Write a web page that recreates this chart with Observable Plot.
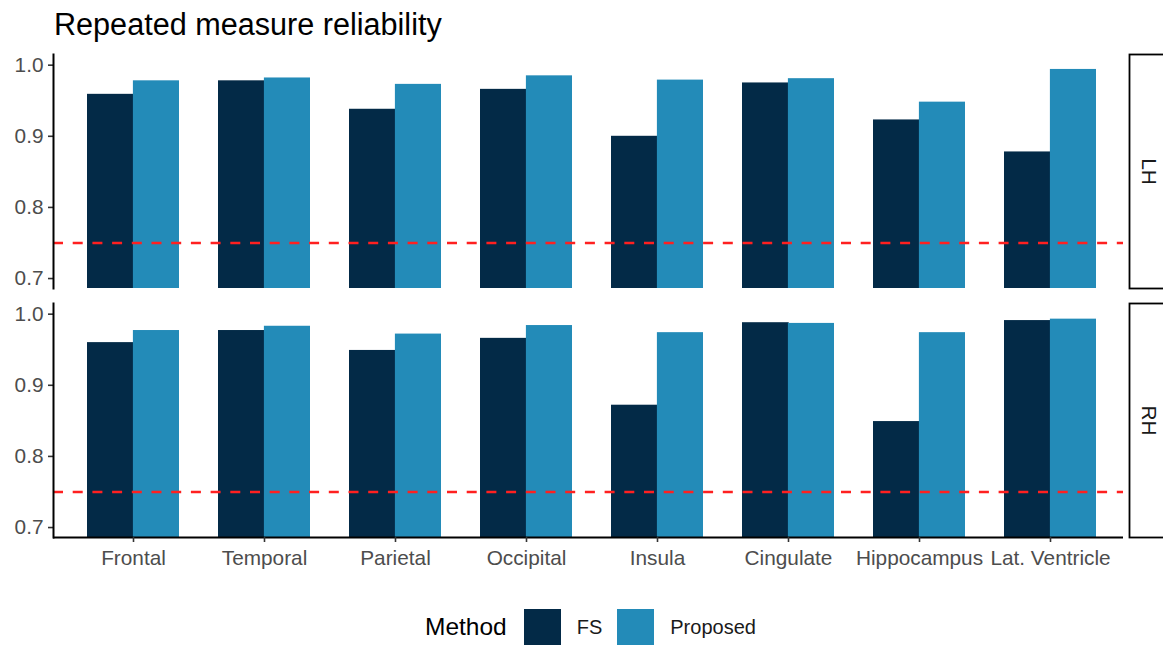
<!DOCTYPE html>
<html>
<head>
<meta charset="utf-8">
<script src="https://cdn.jsdelivr.net/npm/d3@7"></script>
<script src="https://cdn.jsdelivr.net/npm/@observablehq/plot@0.6"></script>
<style>
  html, body { margin: 0; padding: 0; background: #ffffff; }
  body { width: 1163px; height: 646px; position: relative; overflow: hidden;
         font-family: "Liberation Sans", Arial, Helvetica, sans-serif; }
  #title { position: absolute; left: 54px; top: 9px; font-size: 30.6px; line-height: 1; color: #000; white-space: nowrap; z-index: 2; }
  #chart { position: absolute; left: 0; top: 0; z-index: 1; }
  #legend { position: absolute; left: 425px; top: 609px; height: 36px; display: flex; align-items: center; z-index: 2; }
  #legend .ttl { font-size: 24.5px; color: #000; margin-right: 17px; }
  #legend .sw { width: 37px; height: 36px; margin-right: 16px; }
  #legend .lb { font-size: 20px; color: #1a1a1a; margin-right: 15px; }
</style>
</head>
<body>
<div id="title">Repeated measure reliability</div>
<div id="chart"></div>
<div id="legend"></div>
<script>
// ---- data ----
const regions = ["Frontal", "Temporal", "Parietal", "Occipital", "Insula", "Cingulate", "Hippocampus", "Lat. Ventricle"];
const hemispheres = ["LH", "RH"];
const methods = ["FS", "Proposed"];
const methodColors = ["#032a47", "#238bb8"];
const lhFS       = [0.959, 0.978, 0.938, 0.966, 0.900, 0.975, 0.923, 0.878];
const lhProposed = [0.978, 0.982, 0.973, 0.985, 0.979, 0.981, 0.948, 0.994];
const rhFS       = [0.960, 0.977, 0.949, 0.966, 0.872, 0.988, 0.849, 0.991];
const rhProposed = [0.977, 0.983, 0.972, 0.984, 0.974, 0.987, 0.974, 0.993];
const threshold = 0.75;
const yTicks = [0.7, 0.8, 0.9, 1.0];
const yDomain = [0.686, 1.015];
const legendTitle = "Method";

// ---- table ----
const series = {LH: {FS: lhFS, Proposed: lhProposed}, RH: {FS: rhFS, Proposed: rhProposed}};
const rows = [];
for (const h of hemispheres)
  for (const m of methods)
    regions.forEach((r, i) => rows.push({hemi: h, method: m, region: r, value: series[h][m][i]}));

const W = 1163, H = 590, mL = 53, mR = 40, mT = 53, mB = 52.7;
const padIn = 0.3, padOut = 0.23;
const xRange = [56, 1126];
const step = (xRange[1] - xRange[0]) / (regions.length - padIn + 2 * padOut);
const half = step * (1 - padIn) / 2;
const font = "Liberation Sans, Arial, Helvetica, sans-serif";
const axisFont = 20.8;

const plot = Plot.plot({
  width: W, height: H,
  marginLeft: mL, marginRight: mR, marginTop: mT, marginBottom: mB,
  style: {fontFamily: font, fontSize: axisFont + "px", background: "#ffffff", overflow: "visible"},
  x: {domain: regions, range: xRange, paddingInner: padIn, paddingOuter: padOut, label: null},
  fy: {domain: hemispheres, paddingInner: 0.06, paddingOuter: 0, axis: null, label: null},
  y: {domain: yDomain, label: null},
  color: {domain: methods, range: methodColors},
  marks: [
    Plot.barY(rows.filter(d => d.method === methods[0]),
      {fy: "hemi", x: "region", y: "value", fill: "method", insetRight: half - 0.6, clip: true}),
    Plot.barY(rows.filter(d => d.method === methods[1]),
      {fy: "hemi", x: "region", y: "value", fill: "method", insetLeft: half, clip: true}),
    Plot.ruleY([threshold], {stroke: "#ff2020", strokeWidth: 2.4, strokeDasharray: "10,9.7"}),
    Plot.axisY({ticks: yTicks, tickFormat: d3.format(".1f"), tickSize: 5, tickPadding: 5,
                fontSize: axisFont, color: "#4d4d4d", stroke: "#333333", strokeWidth: 1.6, label: null}),
    Plot.frame({anchor: "left", stroke: "#000", strokeWidth: 2}),
    Plot.ruleY([{hemi: "RH", v: yDomain[0]}], {fy: "hemi", y: "v", stroke: "#000", strokeWidth: 2}),
    Plot.axisX({anchor: "bottom", tickSize: 5, tickPadding: 8, fontSize: axisFont,
                color: "#4d4d4d", stroke: "#333333", strokeWidth: 1.6, label: null}),
    Plot.frame({insetLeft: 1129 - mL, insetRight: -(1175 - (W - mR)), stroke: "#000", strokeWidth: 1.8}),
    Plot.text(hemispheres, {fy: d => d, text: d => d, frameAnchor: "right", dx: 25,
                            rotate: 90, textAnchor: "middle", lineAnchor: "middle",
                            fontSize: axisFont, fill: "#1a1a1a"})
  ]
});
document.getElementById("chart").appendChild(plot);

// ---- legend ----
const legend = document.getElementById("legend");
const t = document.createElement("span"); t.className = "ttl"; t.textContent = legendTitle; legend.appendChild(t);
methods.forEach((m, i) => {
  const s = document.createElement("span"); s.className = "sw"; s.style.background = methodColors[i]; legend.appendChild(s);
  const l = document.createElement("span"); l.className = "lb"; l.textContent = m; legend.appendChild(l);
});
</script>
</body>
</html>
